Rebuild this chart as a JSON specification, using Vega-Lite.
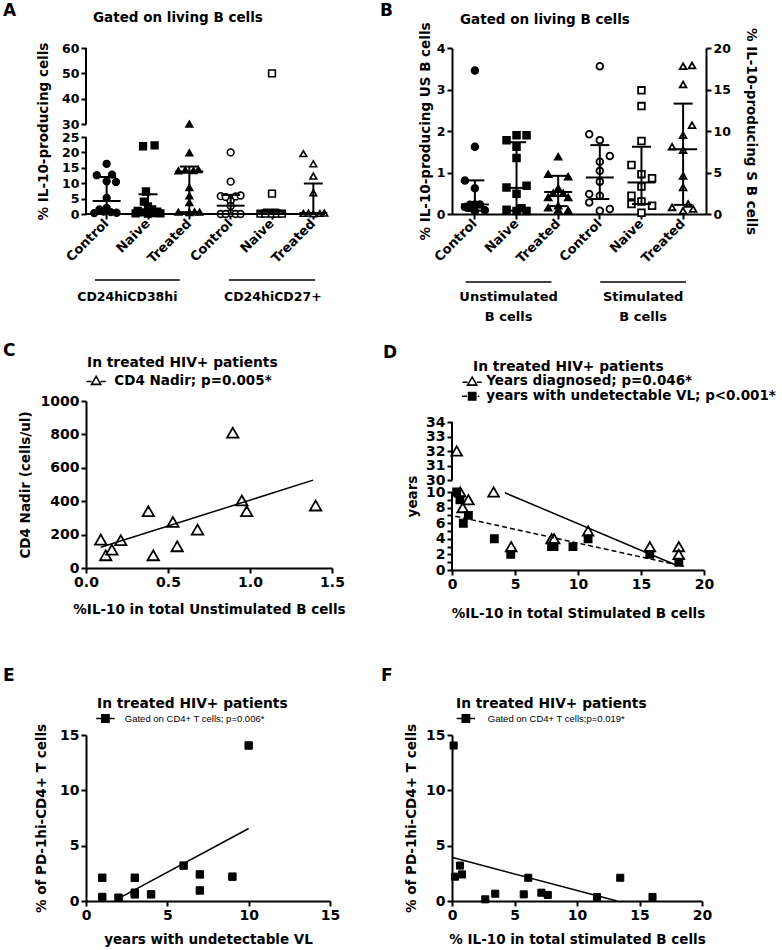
{
"$schema": "https://vega.github.io/schema/vega-lite/v6.json",
"padding": {"left": 3, "top": 2, "right": 2, "bottom": 2},
"config": {
 "view": {"stroke": null},
 "axis": {"grid": false, "domainColor": "black", "domainWidth": 2, "tickColor": "black", "tickWidth": 2, "tickSize": 5, "labelColor": "black", "labelFont": "DejaVu Sans", "labelFontWeight": "bold", "labelFontSize": 14, "titleColor": "black", "titleFont": "DejaVu Sans", "titleFontWeight": "bold", "titleFontSize": 13.5, "labelPadding": 2, "labelFlush": false, "labelOverlap": false},
 "legend": {"titleFont": "DejaVu Sans", "titleFontWeight": "bold", "titleFontSize": 13.8, "titleColor": "black", "titleBaseline": "top", "titleAnchor": "start", "titleAlign": "left", "labelFont": "DejaVu Sans", "labelFontWeight": "bold", "labelFontSize": 13.5, "labelColor": "black", "labelLimit": 500, "titleLimit": 500, "padding": 0, "symbolSize": 64, "symbolStrokeWidth": 1.6, "symbolStrokeColor": "black"},
 "title": {"font": "DejaVu Sans", "fontWeight": "bold", "color": "black", "fontSize": 17, "anchor": "start", "frame": "group", "baseline": "top"},
 "text": {"font": "DejaVu Sans", "fontWeight": "bold", "color": "black"}
},
"datasets": {
 "A": [
  {"c":"C1","v":16.3,"j":0},{"c":"C1","v":12.6,"j":-0.48},{"c":"C1","v":12.8,"j":0.26},{"c":"C1","v":10.4,"j":0.45},{"c":"C1","v":10.6,"j":0},{"c":"C1","v":5.2,"j":0},{"c":"C1","v":2.0,"j":0},{"c":"C1","v":1.5,"j":-0.35},{"c":"C1","v":1.0,"j":0},{"c":"C1","v":0.6,"j":0.2},{"c":"C1","v":0.4,"j":0.48},{"c":"C1","v":0.3,"j":-0.6},{"c":"C1","v":0.8,"j":-0.15},
  {"c":"N1","v":22.0,"j":-0.24},{"c":"N1","v":22.3,"j":0.32},{"c":"N1","v":7.3,"j":-0.1},{"c":"N1","v":4.0,"j":-0.2},{"c":"N1","v":2.5,"j":0},{"c":"N1","v":1.5,"j":0.2},{"c":"N1","v":1.0,"j":-0.5},{"c":"N1","v":0.8,"j":0.45},{"c":"N1","v":0.5,"j":-0.3},{"c":"N1","v":0.3,"j":0.25},{"c":"N1","v":0.2,"j":-0.6},{"c":"N1","v":0.2,"j":0.6},{"c":"N1","v":0.1,"j":0},
  {"c":"T1","v":30,"j":0},{"c":"T1","v":19.9,"j":0},{"c":"T1","v":14.0,"j":-0.53},{"c":"T1","v":14.3,"j":-0.2},{"c":"T1","v":14.1,"j":0.2},{"c":"T1","v":14.4,"j":0.44},{"c":"T1","v":8.6,"j":0},{"c":"T1","v":5.9,"j":0},{"c":"T1","v":3.7,"j":0},{"c":"T1","v":0.6,"j":-0.53},{"c":"T1","v":0.5,"j":0},{"c":"T1","v":0.7,"j":0.25},{"c":"T1","v":0.6,"j":0.5},
  {"c":"C2","v":20,"j":0},{"c":"C2","v":10.5,"j":0},{"c":"C2","v":5.8,"j":-0.48},{"c":"C2","v":5.5,"j":-0.24},{"c":"C2","v":5.7,"j":0.24},{"c":"C2","v":6.0,"j":0.48},{"c":"C2","v":4.2,"j":0},{"c":"C2","v":2.6,"j":0},{"c":"C2","v":0.3,"j":0},{"c":"C2","v":0,"j":-0.48},{"c":"C2","v":0,"j":-0.24},{"c":"C2","v":0,"j":0.24},{"c":"C2","v":0,"j":0.48},
  {"c":"N2","v":50,"j":0},{"c":"N2","v":6.6,"j":0},{"c":"N2","v":0.4,"j":-0.25},{"c":"N2","v":0.4,"j":0.15},{"c":"N2","v":0.1,"j":-0.56},{"c":"N2","v":0.1,"j":-0.32},{"c":"N2","v":0.1,"j":0},{"c":"N2","v":0.1,"j":0.24},{"c":"N2","v":0.1,"j":0.48},
  {"c":"T2","v":19.6,"j":-0.48},{"c":"T2","v":16.3,"j":0},{"c":"T2","v":12.3,"j":0},{"c":"T2","v":6.9,"j":0},{"c":"T2","v":0.2,"j":-0.48},{"c":"T2","v":0.3,"j":-0.24},{"c":"T2","v":0.1,"j":0},{"c":"T2","v":0.2,"j":0.32},{"c":"T2","v":0.3,"j":0.53}
 ],
 "Asum": [
  {"c":"C1","med":4.2,"q1":0.5,"q3":12.0},{"c":"N1","med":0.9,"q1":0.1,"q3":6.4},{"c":"T1","med":13.8,"q1":0.6,"q3":15.4},
  {"c":"C2","med":2.7,"q1":0,"q3":6.2},{"c":"N2","med":0.7,"q1":0,"q3":1.0},{"c":"T2","med":0.3,"q1":0,"q3":9.9}
 ],
 "Agrp": [{"g":1,"a":"C1","m":"N1","b":"T1","t":"CD24hiCD38hi"},{"g":2,"a":"C2","m":"N2","b":"T2","t":"CD24hiCD27+"}],
 "Aaxis": [{"y0":0,"y1":25},{"y0":30,"y1":60}],
 "BU": [
  {"c":"CU","v":3.46,"j":0},{"c":"CU","v":1.62,"j":0},{"c":"CU","v":0.81,"j":-0.48},{"c":"CU","v":0.62,"j":0},{"c":"CU","v":0.17,"j":-0.48},{"c":"CU","v":0.22,"j":-0.24},{"c":"CU","v":0.23,"j":0},{"c":"CU","v":0.23,"j":0.24},{"c":"CU","v":0.09,"j":0.48},{"c":"CU","v":0.07,"j":0},{"c":"CU","v":0.15,"j":-0.3},
  {"c":"NU","v":1.9,"j":0},{"c":"NU","v":1.9,"j":0.48},{"c":"NU","v":1.78,"j":-0.48},{"c":"NU","v":1.62,"j":0},{"c":"NU","v":1.35,"j":0},{"c":"NU","v":0.64,"j":-0.48},{"c":"NU","v":0.68,"j":0.48},{"c":"NU","v":0.49,"j":0},{"c":"NU","v":0.1,"j":-0.48},{"c":"NU","v":0.07,"j":0},{"c":"NU","v":0.14,"j":0.24},{"c":"NU","v":0.07,"j":0.48},
  {"c":"TU","v":1.38,"j":0},{"c":"TU","v":0.96,"j":-0.48},{"c":"TU","v":0.9,"j":0.48},{"c":"TU","v":0.62,"j":0},{"c":"TU","v":0.5,"j":-0.24},{"c":"TU","v":0.5,"j":0.24},{"c":"TU","v":0.4,"j":-0.48},{"c":"TU","v":0.4,"j":0.48},{"c":"TU","v":0.2,"j":0},{"c":"TU","v":0.15,"j":-0.48},{"c":"TU","v":0.1,"j":0},{"c":"TU","v":0.09,"j":0.48}
 ],
 "BS": [
  {"c":"CS","v":17.8,"j":0},{"c":"CS","v":9.6,"j":-0.51},{"c":"CS","v":8.9,"j":0},{"c":"CS","v":7.0,"j":0.48},{"c":"CS","v":6.3,"j":0},{"c":"CS","v":5.2,"j":0},{"c":"CS","v":3.9,"j":0},{"c":"CS","v":2.4,"j":-0.51},{"c":"CS","v":2.2,"j":0},{"c":"CS","v":1.4,"j":-0.51},{"c":"CS","v":0.4,"j":0},{"c":"CS","v":0.6,"j":0.48},
  {"c":"NS","v":14.9,"j":0},{"c":"NS","v":13.0,"j":0},{"c":"NS","v":8.8,"j":0},{"c":"NS","v":5.9,"j":-0.48},{"c":"NS","v":4.8,"j":0},{"c":"NS","v":4.3,"j":0.51},{"c":"NS","v":3.3,"j":0},{"c":"NS","v":2.2,"j":-0.48},{"c":"NS","v":1.2,"j":-0.48},{"c":"NS","v":1.5,"j":0},{"c":"NS","v":1.0,"j":0.51},{"c":"NS","v":0.15,"j":0},
  {"c":"TS","v":17.8,"j":0},{"c":"TS","v":17.9,"j":0.43},{"c":"TS","v":15.6,"j":0},{"c":"TS","v":10.7,"j":0.43},{"c":"TS","v":9.5,"j":0},{"c":"TS","v":8.1,"j":-0.53},{"c":"TS","v":7.7,"j":0},{"c":"TS","v":4.6,"j":0},{"c":"TS","v":3.2,"j":0},{"c":"TS","v":0.8,"j":-0.53},{"c":"TS","v":1.2,"j":0.24},{"c":"TS","v":0.4,"j":0},{"c":"TS","v":0.6,"j":0.48}
 ],
 "BUsum": [{"c":"CU","med":0.23,"q1":0.08,"q3":0.81},{"c":"NU","med":0.63,"q1":0.08,"q3":1.73},{"c":"TU","med":0.53,"q1":0.19,"q3":0.92}],
 "BSsum": [{"c":"CS","med":4.4,"q1":1.8,"q3":8.3},{"c":"NS","med":3.8,"q1":1.2,"q3":8.1},{"c":"TS","med":7.8,"q1":1.1,"q3":13.3}],
 "Bgrp": [{"g":1,"a":"CU","m":"NU","b":"TU","t":"Unstimulated\nB cells"},{"g":2,"a":"CS","m":"NS","b":"TS","t":"Stimulated\nB cells"}],
 "C": [
  {"x":0.09,"y":170},{"x":0.12,"y":76},{"x":0.158,"y":110},{"x":0.212,"y":166},{"x":0.38,"y":340},{"x":0.41,"y":76},{"x":0.53,"y":276},{"x":0.556,"y":130},{"x":0.68,"y":230},{"x":0.895,"y":810},{"x":0.95,"y":404},{"x":0.98,"y":340},{"x":1.40,"y":374}
 ],
 "Cline": [{"x":0.09,"y":124,"s":"CD4 Nadir; p=0.005*"},{"x":1.385,"y":526,"s":"CD4 Nadir; p=0.005*"}],
 "D": [
  {"x":0.37,"y":32,"s":"Years diagnosed; p=0.046*"},{"x":0.65,"y":10,"s":"Years diagnosed; p=0.046*"},{"x":0.85,"y":8,"s":"Years diagnosed; p=0.046*"},{"x":1.3,"y":9,"s":"Years diagnosed; p=0.046*"},{"x":3.3,"y":10,"s":"Years diagnosed; p=0.046*"},{"x":4.7,"y":3,"s":"Years diagnosed; p=0.046*"},{"x":7.9,"y":4,"s":"Years diagnosed; p=0.046*"},{"x":8.1,"y":4,"s":"Years diagnosed; p=0.046*"},{"x":10.8,"y":5,"s":"Years diagnosed; p=0.046*"},{"x":15.7,"y":3,"s":"Years diagnosed; p=0.046*"},{"x":18.0,"y":3,"s":"Years diagnosed; p=0.046*"},{"x":18.0,"y":2,"s":"Years diagnosed; p=0.046*"},
  {"x":0.37,"y":10,"s":"years with undetectable VL; p<0.001*"},{"x":0.63,"y":9,"s":"years with undetectable VL; p<0.001*"},{"x":0.9,"y":6,"s":"years with undetectable VL; p<0.001*"},{"x":1.3,"y":7,"s":"years with undetectable VL; p<0.001*"},{"x":3.36,"y":4,"s":"years with undetectable VL; p<0.001*"},{"x":4.66,"y":2,"s":"years with undetectable VL; p<0.001*"},{"x":7.9,"y":3,"s":"years with undetectable VL; p<0.001*"},{"x":8.1,"y":3,"s":"years with undetectable VL; p<0.001*"},{"x":9.6,"y":3,"s":"years with undetectable VL; p<0.001*"},{"x":10.8,"y":4,"s":"years with undetectable VL; p<0.001*"},{"x":15.7,"y":2,"s":"years with undetectable VL; p<0.001*"},{"x":18.0,"y":1,"s":"years with undetectable VL; p<0.001*"}
 ],
 "Dline": [{"x":4.2,"y":9.9,"s":"Years diagnosed; p=0.046*"},{"x":17.9,"y":0.55,"s":"Years diagnosed; p=0.046*"},{"x":0.26,"y":6.9,"s":"years with undetectable VL; p<0.001*"},{"x":18.4,"y":0.47,"s":"years with undetectable VL; p<0.001*"}],
 "Daxis": [{"y0":0,"y1":10},{"y0":30,"y1":34}],
 "E": [
  {"x":1,"y":2.1},{"x":1,"y":0.36},{"x":2,"y":0.3},{"x":3,"y":2.1},{"x":3,"y":0.6},{"x":3,"y":0.75},{"x":4,"y":0.6},{"x":6,"y":3.2},{"x":7,"y":2.4},{"x":7,"y":0.95},{"x":9,"y":2.2},{"x":10,"y":14.05}
 ],
 "Eline": [{"x":1.9,"y":0.15,"s":"Gated on CD4+ T cells; p=0.006*"},{"x":10,"y":6.55,"s":"Gated on CD4+ T cells; p=0.006*"}],
 "F": [
  {"x":0.13,"y":14.05},{"x":0.24,"y":2.2},{"x":0.64,"y":3.2},{"x":0.8,"y":2.4},{"x":2.66,"y":0.15},{"x":3.46,"y":0.66},{"x":5.74,"y":0.6},{"x":6.1,"y":2.1},{"x":7.15,"y":0.75},{"x":7.66,"y":0.55},{"x":11.6,"y":0.36},{"x":13.46,"y":2.1},{"x":16.04,"y":0.36}
 ],
 "Fline": [{"x":0.05,"y":3.93,"s":"Gated on CD4+ T cells;p=0.019*"},{"x":13.2,"y":0,"s":"Gated on CD4+ T cells;p=0.019*"}]
},
"columns": 2,
"bounds": "flush",
"align": "each",
"spacing": {"row": 165, "column": 120},
"resolve": {"scale": {"shape": "independent", "fill": "independent", "size": "independent", "stroke": "independent", "color": "independent", "xOffset": "independent"}, "legend": {"shape": "independent", "fill": "independent", "size": "independent", "stroke": "independent", "color": "independent"}},
"concat": [
 {"width": 239, "height": 166,
  "title": {"text": "A", "dx": -83, "offset": -8.9},
  "layer": [
   {"layer": [
    {"data": {"name": "A"}, "mark": {"type": "point", "filled": true, "stroke": "black", "strokeWidth": 1.6, "size": 45, "opacity": 1},
     "encoding": {
      "x": {"field": "c", "type": "nominal", "scale": {"domain": ["C1","N1","T1","C2","N2","T2"], "range": [0, 248], "paddingInner": 0, "paddingOuter": 0}, "axis": {"title": null, "domain": false, "labelAngle": -45, "labelAlign": "right", "labelBaseline": "middle", "labelFontSize": 13, "labelExpr": "substring(datum.value,0,1)=='C'?'Control':(substring(datum.value,0,1)=='N'?'Naive':'Treated')"}},
      "xOffset": {"field": "j", "type": "quantitative", "scale": {"domain": [-1, 1], "nice": false, "zero": false}},
      "y": {"field": "v", "type": "quantitative", "title": "% IL-10-producing cells", "scale": {"domain": [0, 25, 30, 60], "range": [166, 89, 76, 0], "nice": false, "zero": false}, "axis": {"values": [0,5,10,15,20,25,30,40,50,60], "tickCount": 100, "format": "d", "domain": false, "labelFontSize": 12.5, "titlePadding": 11}},
      "shape": {"field": "c", "type": "nominal", "scale": {"domain": ["C1","N1","T1","C2","N2","T2"], "range": ["circle","square","triangle-up","circle","square","triangle-up"]},
       "legend": {"orient": "none", "legendX": 7, "legendY": -36.8, "title": "Gated on living B cells", "titleFontSize": 13.5, "values": ["C1"], "labelExpr": "''", "symbolOpacity": 0, "symbolSize": 1}},
      "fill": {"field": "c", "type": "nominal", "scale": {"domain": ["C1","N1","T1","C2","N2","T2"], "range": ["black","black","black","white","white","white"]}, "legend": null}
     }},
    {"data": {"name": "Asum"}, "mark": {"type": "rule", "strokeWidth": 2, "color": "black"},
     "encoding": {"x": {"field": "c", "type": "nominal"}, "y": {"field": "q1", "type": "quantitative", "title": "% IL-10-producing cells"}, "y2": {"field": "q3"}}},
    {"data": {"name": "Asum"}, "mark": {"type": "tick", "orient": "horizontal", "size": 19, "thickness": 2, "color": "black", "opacity": 1},
     "encoding": {"x": {"field": "c", "type": "nominal"}, "y": {"field": "q1", "type": "quantitative", "title": "% IL-10-producing cells"}}},
    {"data": {"name": "Asum"}, "mark": {"type": "tick", "orient": "horizontal", "size": 19, "thickness": 2, "color": "black", "opacity": 1},
     "encoding": {"x": {"field": "c", "type": "nominal"}, "y": {"field": "q3", "type": "quantitative", "title": "% IL-10-producing cells"}}},
    {"data": {"name": "Asum"}, "mark": {"type": "tick", "orient": "horizontal", "size": 28, "thickness": 2, "color": "black", "opacity": 1},
     "encoding": {"x": {"field": "c", "type": "nominal"}, "y": {"field": "med", "type": "quantitative", "title": "% IL-10-producing cells"}}},
    {"data": {"name": "Agrp"}, "transform": [{"filter": "datum.g == 1"}], "mark": {"type": "rule", "strokeWidth": 1.5, "color": "black"},
     "encoding": {"x": {"field": "a", "type": "nominal", "bandPosition": 0.22}, "x2": {"field": "b", "bandPosition": 0.27}, "y": {"datum": -21.4, "type": "quantitative"}}},
    {"data": {"name": "Agrp"}, "transform": [{"filter": "datum.g == 2"}], "mark": {"type": "rule", "strokeWidth": 1.5, "color": "black"},
     "encoding": {"x": {"field": "a", "type": "nominal", "bandPosition": 0.46}, "x2": {"field": "b", "bandPosition": 0.54}, "y": {"datum": -21.4, "type": "quantitative"}}},
    {"data": {"name": "Agrp"}, "transform": [{"filter": "datum.g == 1"}], "mark": {"type": "text", "fontSize": 12.5, "baseline": "middle", "align": "center"},
     "encoding": {"x": {"field": "m", "type": "nominal", "bandPosition": 0}, "y": {"datum": -26.9, "type": "quantitative"}, "text": {"field": "t"}}},
    {"data": {"name": "Agrp"}, "transform": [{"filter": "datum.g == 2"}], "mark": {"type": "text", "fontSize": 12.5, "baseline": "middle", "align": "center"},
     "encoding": {"x": {"field": "m", "type": "nominal", "bandPosition": 0.52}, "y": {"datum": -26.9, "type": "quantitative"}, "text": {"field": "t"}}}
   ]},
   {"data": {"name": "Aaxis"}, "mark": {"type": "rule", "strokeWidth": 2, "color": "black"},
    "encoding": {"x": {"datum": 0, "type": "quantitative", "scale": {"domain": [0, 1]}, "axis": null}, "y": {"field": "y0", "type": "quantitative", "title": "% IL-10-producing cells"}, "y2": {"field": "y1"}}},
   {"data": {"name": "Aaxis"}, "transform": [{"filter": "datum.y0 == 0"}], "mark": {"type": "rule", "strokeWidth": 2, "color": "black"},
    "encoding": {"x": {"datum": 0, "type": "quantitative", "axis": null}, "x2": {"datum": 1}, "y": {"field": "y0", "type": "quantitative", "title": "% IL-10-producing cells"}}}
  ],
  "resolve": {"scale": {"x": "independent"}, "axis": {"x": "independent"}}
 },
 {"width": 254, "height": 166,
  "title": {"text": "B", "dx": -72, "offset": -7.4},
  "layer": [
   {"layer": [
    {"data": {"name": "BU"}, "mark": {"type": "point", "filled": true, "stroke": "black", "strokeWidth": 1.8, "size": 45, "opacity": 1},
     "encoding": {
      "x": {"field": "c", "type": "nominal", "scale": {"domain": ["CU","NU","TU","CS","NS","TS"], "paddingInner": 0, "paddingOuter": 0.05}, "axis": {"title": null, "labelAngle": -45, "labelAlign": "right", "labelBaseline": "middle", "labelFontSize": 13, "labelExpr": "substring(datum.value,0,1)=='C'?'Control':(substring(datum.value,0,1)=='N'?'Naive':'Treated')"}},
      "xOffset": {"field": "j", "type": "quantitative", "scale": {"domain": [-1, 1], "nice": false, "zero": false}},
      "y": {"field": "v", "type": "quantitative", "title": "% IL-10-producing US B cells", "scale": {"domain": [0, 4], "nice": false}, "axis": {"orient": "left", "values": [0,1,2,3,4], "tickCount": 100, "format": "d", "labelFontSize": 12.5, "titlePadding": 4}},
      "shape": {"field": "c", "type": "nominal", "scale": {"domain": ["CU","NU","TU","CS","NS","TS"], "range": ["circle","square","triangle-up","circle","square","triangle-up"]},
       "legend": {"orient": "none", "legendX": 8, "legendY": -35.3, "title": "Gated on living B cells", "titleFontSize": 13.5, "values": ["CU"], "labelExpr": "''", "symbolOpacity": 0, "symbolSize": 1}},
      "fill": {"field": "c", "type": "nominal", "scale": {"domain": ["CU","NU","TU","CS","NS","TS"], "range": ["black","black","black","white","white","white"]}, "legend": null}
     }},
    {"data": {"name": "BUsum"}, "mark": {"type": "rule", "strokeWidth": 2, "color": "black"},
     "encoding": {"x": {"field": "c", "type": "nominal"}, "y": {"field": "q1", "type": "quantitative", "title": "% IL-10-producing US B cells"}, "y2": {"field": "q3"}}},
    {"data": {"name": "BUsum"}, "mark": {"type": "tick", "orient": "horizontal", "size": 19, "thickness": 2, "color": "black", "opacity": 1},
     "encoding": {"x": {"field": "c", "type": "nominal"}, "y": {"field": "q1", "type": "quantitative", "title": "% IL-10-producing US B cells"}}},
    {"data": {"name": "BUsum"}, "mark": {"type": "tick", "orient": "horizontal", "size": 19, "thickness": 2, "color": "black", "opacity": 1},
     "encoding": {"x": {"field": "c", "type": "nominal"}, "y": {"field": "q3", "type": "quantitative", "title": "% IL-10-producing US B cells"}}},
    {"data": {"name": "BUsum"}, "mark": {"type": "tick", "orient": "horizontal", "size": 28, "thickness": 2, "color": "black", "opacity": 1},
     "encoding": {"x": {"field": "c", "type": "nominal"}, "y": {"field": "med", "type": "quantitative", "title": "% IL-10-producing US B cells"}}},
    {"data": {"name": "Bgrp"}, "transform": [{"filter": "datum.g == 1"}], "mark": {"type": "rule", "strokeWidth": 1.5, "color": "black"},
     "encoding": {"x": {"field": "a", "type": "nominal", "bandPosition": 0.28}, "x2": {"field": "b", "bandPosition": 0.34}, "y": {"datum": -1.64, "type": "quantitative"}}},
    {"data": {"name": "Bgrp"}, "transform": [{"filter": "datum.g == 2"}], "mark": {"type": "rule", "strokeWidth": 1.5, "color": "black"},
     "encoding": {"x": {"field": "a", "type": "nominal", "bandPosition": 0.51}, "x2": {"field": "b", "bandPosition": 0.57}, "y": {"datum": -1.64, "type": "quantitative"}}},
    {"data": {"name": "Bgrp"}, "transform": [{"filter": "datum.g == 1"}], "mark": {"type": "text", "fontSize": 13, "baseline": "top", "align": "center", "lineBreak": "\n", "lineHeight": 20},
     "encoding": {"x": {"field": "m", "type": "nominal", "bandPosition": 0.31}, "y": {"datum": -1.855, "type": "quantitative"}, "text": {"field": "t"}}},
    {"data": {"name": "Bgrp"}, "transform": [{"filter": "datum.g == 2"}], "mark": {"type": "text", "fontSize": 13, "baseline": "top", "align": "center", "lineBreak": "\n", "lineHeight": 20},
     "encoding": {"x": {"field": "m", "type": "nominal", "bandPosition": 0.54}, "y": {"datum": -1.855, "type": "quantitative"}, "text": {"field": "t"}}}
   ]},
   {"layer": [
    {"data": {"name": "BS"}, "mark": {"type": "point", "filled": true, "stroke": "black", "strokeWidth": 1.8, "size": 45, "opacity": 1},
     "encoding": {
      "x": {"field": "c", "type": "nominal", "scale": {"domain": ["CU","NU","TU","CS","NS","TS"], "paddingInner": 0, "paddingOuter": 0.05}, "axis": {"title": null, "labelAngle": -45, "labelAlign": "right", "labelBaseline": "middle", "labelFontSize": 13, "labelExpr": "substring(datum.value,0,1)=='C'?'Control':(substring(datum.value,0,1)=='N'?'Naive':'Treated')"}},
      "xOffset": {"field": "j", "type": "quantitative", "scale": {"domain": [-1, 1], "nice": false, "zero": false}},
      "y": {"field": "v", "type": "quantitative", "title": "% IL-10-producing S B cells", "scale": {"domain": [0, 20], "nice": false}, "axis": {"orient": "right", "values": [0,5,10,15,20], "tickCount": 100, "format": "d", "labelFontSize": 12.5, "titlePadding": 13}},
      "shape": {"field": "c", "type": "nominal", "scale": {"domain": ["CU","NU","TU","CS","NS","TS"], "range": ["circle","square","triangle-up","circle","square","triangle-up"]}},
      "fill": {"field": "c", "type": "nominal", "scale": {"domain": ["CU","NU","TU","CS","NS","TS"], "range": ["black","black","black","white","white","white"]}, "legend": null}
     }},
    {"data": {"name": "BSsum"}, "mark": {"type": "rule", "strokeWidth": 2, "color": "black"},
     "encoding": {"x": {"field": "c", "type": "nominal"}, "y": {"field": "q1", "type": "quantitative", "title": "% IL-10-producing S B cells"}, "y2": {"field": "q3"}}},
    {"data": {"name": "BSsum"}, "mark": {"type": "tick", "orient": "horizontal", "size": 19, "thickness": 2, "color": "black", "opacity": 1},
     "encoding": {"x": {"field": "c", "type": "nominal"}, "y": {"field": "q1", "type": "quantitative", "title": "% IL-10-producing S B cells"}}},
    {"data": {"name": "BSsum"}, "mark": {"type": "tick", "orient": "horizontal", "size": 19, "thickness": 2, "color": "black", "opacity": 1},
     "encoding": {"x": {"field": "c", "type": "nominal"}, "y": {"field": "q3", "type": "quantitative", "title": "% IL-10-producing S B cells"}}},
    {"data": {"name": "BSsum"}, "mark": {"type": "tick", "orient": "horizontal", "size": 28, "thickness": 2, "color": "black", "opacity": 1},
     "encoding": {"x": {"field": "c", "type": "nominal"}, "y": {"field": "med", "type": "quantitative", "title": "% IL-10-producing S B cells"}}}
   ]}
  ],
  "resolve": {"scale": {"y": "independent"}, "axis": {"y": "independent"}}
 },
 {"width": 246, "height": 189,
  "title": {"text": "C", "dx": -83, "offset": -4.6},
  "layer": [
   {"data": {"name": "C"}, "mark": {"type": "point", "shape": "triangle-up", "filled": true, "fill": "white", "stroke": "black", "strokeWidth": 1.8, "size": 130, "opacity": 1},
    "encoding": {
     "x": {"field": "x", "type": "quantitative", "title": "%IL-10 in total Unstimulated B cells", "scale": {"domain": [0, 1.5], "nice": false}, "axis": {"values": [0, 0.5, 1, 1.5], "tickCount": 100, "format": ".1f", "titlePadding": 13}},
     "y": {"field": "y", "type": "quantitative", "title": "CD4 Nadir (cells/ul)", "scale": {"domain": [0, 1000], "range": [189, 22], "nice": false}, "axis": {"values": [0,200,400,600,800,1000], "tickCount": 100, "format": "d", "titlePadding": 7.5}}
    }},
   {"data": {"name": "Cline"}, "mark": {"type": "line", "strokeWidth": 1.5},
    "encoding": {"x": {"field": "x", "type": "quantitative", "title": "%IL-10 in total Unstimulated B cells"}, "y": {"field": "y", "type": "quantitative", "title": "CD4 Nadir (cells/ul)"},
     "stroke": {"field": "s", "type": "nominal", "scale": {"range": ["black"]},
      "legend": {"orient": "none", "legendX": 1, "legendY": -23.5, "title": "In treated HIV+ patients", "titlePadding": 4.5, "symbolOffset": 2.4, "labelOffset": 11.4, "symbolType": "M-2.4,0.25H-1.15M1.15,0.25H2.4M0,-1.05L1.15,0.95L-1.15,0.95Z", "symbolFillColor": "transparent", "symbolStrokeWidth": 1.6}}}}
  ]
 },
 {"width": 252, "height": 191,
  "title": {"text": "D", "dx": -69, "offset": -1.6},
  "layer": [
   {"data": {"name": "D"}, "mark": {"type": "point", "filled": true, "stroke": "black", "strokeWidth": 1.8, "opacity": 1},
    "encoding": {
     "x": {"field": "x", "type": "quantitative", "title": "%IL-10 in total Stimulated B cells", "scale": {"domain": [0, 20], "nice": false}, "axis": {"values": [0,5,10,15,20], "tickCount": 100, "format": "d", "titlePadding": 15}},
     "y": {"field": "y", "type": "quantitative", "title": "years", "scale": {"domain": [0, 10, 30, 34], "range": [191, 113, 101, 43], "nice": false, "zero": false}, "axis": {"values": [0,1,2,3,4,5,6,7,8,9,10,30,31,32,33,34], "tickCount": 100, "format": "d", "labelExpr": "datum.value < 10 && datum.value % 2 == 1 ? '' : datum.label", "domain": false, "titlePadding": 6}},
     "shape": {"field": "s", "type": "nominal", "scale": {"domain": ["Years diagnosed; p=0.046*", "years with undetectable VL; p<0.001*"], "range": ["triangle-up", "square"]}, "legend": null},
     "fill": {"field": "s", "type": "nominal", "scale": {"domain": ["Years diagnosed; p=0.046*", "years with undetectable VL; p<0.001*"], "range": ["white", "black"]}, "legend": null},
     "size": {"field": "s", "type": "nominal", "scale": {"domain": ["Years diagnosed; p=0.046*", "years with undetectable VL; p<0.001*"], "range": [115, 50]}, "legend": null}
    }},
   {"data": {"name": "Dline"}, "transform": [{"filter": "datum.s == 'Years diagnosed; p=0.046*'"}], "mark": {"type": "line", "strokeWidth": 1.5},
    "encoding": {"x": {"field": "x", "type": "quantitative", "title": "%IL-10 in total Stimulated B cells"}, "y": {"field": "y", "type": "quantitative", "title": "years"},
     "stroke": {"field": "s", "type": "nominal", "scale": {"range": ["black"]},
      "legend": {"orient": "none", "legendX": 21, "legendY": -19, "title": "In treated HIV+ patients", "titlePadding": 0.75, "symbolOffset": -7.6, "labelOffset": 7.4, "symbolType": "M-2.4,0.25H-1.15M1.15,0.25H2.4M0,-1.05L1.15,0.95L-1.15,0.95Z", "symbolFillColor": "transparent", "symbolStrokeWidth": 1.6}}}},
   {"data": {"name": "Dline"}, "transform": [{"filter": "datum.s != 'Years diagnosed; p=0.046*'"}], "mark": {"type": "line", "strokeWidth": 1.5, "strokeDash": [5, 3]},
    "encoding": {"x": {"field": "x", "type": "quantitative", "title": "%IL-10 in total Stimulated B cells"}, "y": {"field": "y", "type": "quantitative", "title": "years"},
     "color": {"field": "s", "type": "nominal", "scale": {"range": ["black"]},
      "legend": {"orient": "none", "legendX": 21, "legendY": 10.5, "title": null, "symbolOffset": -7.6, "labelOffset": 7.4, "symbolType": "M-2.5,0H-1.3M1.4,0H1.8M-0.9,-0.9H0.9V0.9H-0.9ZM-0.9,-0.55H0.9M-0.9,-0.2H0.9M-0.9,0.15H0.9M-0.9,0.5H0.9", "symbolFillColor": "black", "symbolStrokeWidth": 1.6}}}},
   {"data": {"name": "Daxis"}, "mark": {"type": "rule", "strokeWidth": 2, "color": "black"},
    "encoding": {"x": {"datum": 0, "type": "quantitative"}, "y": {"field": "y0", "type": "quantitative", "title": "years"}, "y2": {"field": "y1"}}}
  ]
 },
 {"width": 244, "height": 166,
  "title": {"text": "E", "dx": -83, "offset": 12.4},
  "layer": [
   {"data": {"name": "E"}, "mark": {"type": "point", "shape": "square", "filled": true, "fill": "black", "stroke": "black", "strokeWidth": 1, "size": 55, "opacity": 1},
    "encoding": {
     "x": {"field": "x", "type": "quantitative", "title": "years with undetectable VL", "scale": {"domain": [0, 15], "nice": false}, "axis": {"values": [0,5,10,15], "tickCount": 100, "format": "d", "titlePadding": 10}},
     "y": {"field": "y", "type": "quantitative", "title": "% of PD-1hi-CD4+ T cells", "scale": {"domain": [0, 15], "nice": false}, "axis": {"values": [0,5,10,15], "tickCount": 100, "format": "d", "titlePadding": 11}}
    }},
   {"data": {"name": "Eline"}, "mark": {"type": "line", "strokeWidth": 1.5},
    "encoding": {"x": {"field": "x", "type": "quantitative", "title": "years with undetectable VL"}, "y": {"field": "y", "type": "quantitative", "title": "% of PD-1hi-CD4+ T cells"},
     "stroke": {"field": "s", "type": "nominal", "scale": {"range": ["black"]},
      "legend": {"orient": "none", "legendX": 11, "legendY": -38, "title": "In treated HIV+ patients", "titlePadding": 2.7, "symbolOffset": 3.4, "labelOffset": 14.4, "labelFont": "Liberation Sans", "labelFontWeight": "normal", "labelFontSize": 9.5, "symbolType": "M-2.3,0H-0.9M0.9,0H2.3M-0.9,-0.9H0.9V0.9H-0.9ZM-0.9,-0.55H0.9M-0.9,-0.2H0.9M-0.9,0.15H0.9M-0.9,0.5H0.9", "symbolFillColor": "black", "symbolStrokeWidth": 1.6}}}}
  ]
 },
 {"width": 250, "height": 166,
  "title": {"text": "F", "dx": -71, "offset": 12.4},
  "layer": [
   {"data": {"name": "F"}, "mark": {"type": "point", "shape": "square", "filled": true, "fill": "black", "stroke": "black", "strokeWidth": 1, "size": 50, "opacity": 1},
    "encoding": {
     "x": {"field": "x", "type": "quantitative", "title": "% IL-10 in total stimulated B cells", "scale": {"domain": [0, 20], "nice": false}, "axis": {"values": [0,5,10,15,20], "tickCount": 100, "format": "d", "titlePadding": 10}},
     "y": {"field": "y", "type": "quantitative", "title": "% of PD-1hi-CD4+ T cells", "scale": {"domain": [0, 15], "nice": false}, "axis": {"values": [0,5,10,15], "tickCount": 100, "format": "d", "titlePadding": 7}}
    }},
   {"data": {"name": "Fline"}, "mark": {"type": "line", "strokeWidth": 1.5},
    "encoding": {"x": {"field": "x", "type": "quantitative", "title": "% IL-10 in total stimulated B cells"}, "y": {"field": "y", "type": "quantitative", "title": "% of PD-1hi-CD4+ T cells"},
     "stroke": {"field": "s", "type": "nominal", "scale": {"range": ["black"]},
      "legend": {"orient": "none", "legendX": 4, "legendY": -38, "title": "In treated HIV+ patients", "titlePadding": 2.7, "symbolOffset": 4.9, "labelOffset": 16.9, "labelFont": "Liberation Sans", "labelFontWeight": "normal", "labelFontSize": 9.5, "symbolType": "M-2.3,0H-0.9M0.9,0H2.3M-0.9,-0.9H0.9V0.9H-0.9ZM-0.9,-0.55H0.9M-0.9,-0.2H0.9M-0.9,0.15H0.9M-0.9,0.5H0.9", "symbolFillColor": "black", "symbolStrokeWidth": 1.6}}}}
  ]
 }
]
}
